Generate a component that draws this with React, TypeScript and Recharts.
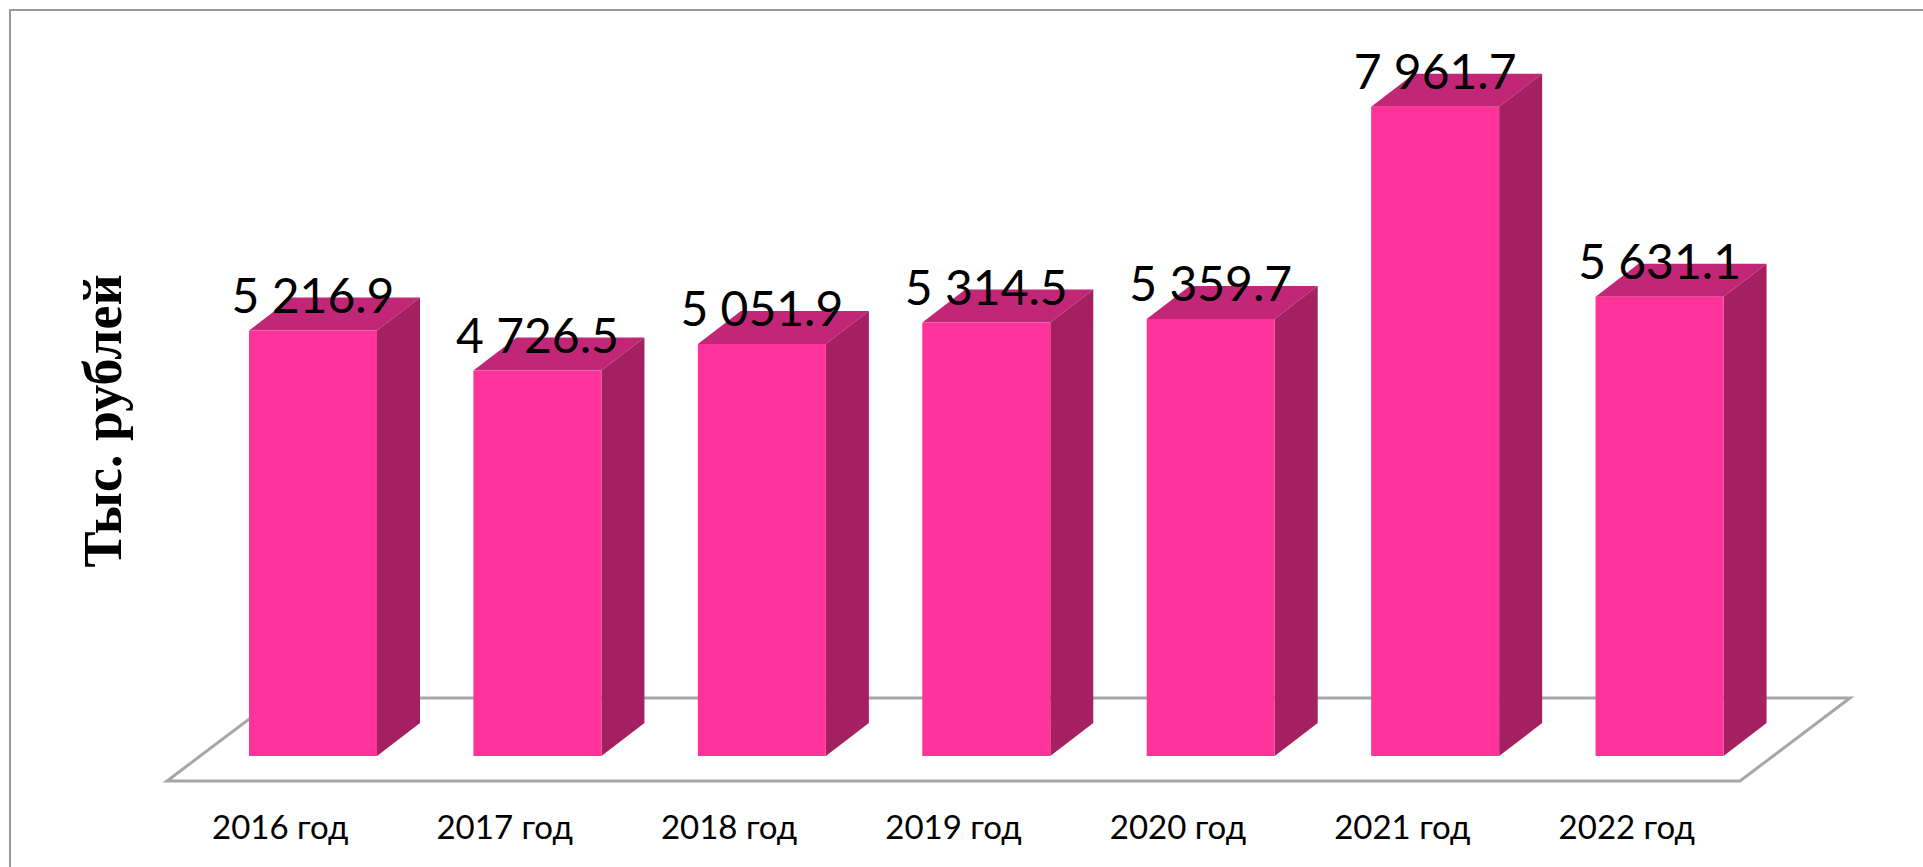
import React from "react";
import { BarChart, Bar, XAxis, YAxis, LabelList, usePlotArea } from "recharts";

const categories = ["2016 год", "2017 год", "2018 год", "2019 год", "2020 год", "2021 год", "2022 год"];
const values = [5216.9, 4726.5, 5051.9, 5314.5, 5359.7, 7961.7, 5631.1];
const valueLabels = ["5 216.9", "4 726.5", "5 051.9", "5 314.5", "5 359.7", "7 961.7", "5 631.1"];
const yTitle = "Тыс. рублей";

const rows = categories.map((name, i) => ({ name, value: values[i], label: valueLabels[i] }));

const DEPTH_X = 43;
const DEPTH_Y = 33;
const FRONT = "#FF3399";
const TOP = "#C22676";
const SIDE = "#A42060";
const GRID = "#A6A6A6";

function Floor() {
  const p = usePlotArea();
  if (!p) return null;
  const base = p.y + p.height;
  const xl = p.x - 34;
  const xr = p.x + p.width - 32;
  const yf = base + 25;
  const yb = base - 58;
  const shift = 110;
  return (
    <polygon
      points={`${xl},${yf} ${xr},${yf} ${xr + shift},${yb} ${xl + shift},${yb}`}
      fill="#FFFFFF"
      stroke={GRID}
      strokeWidth={3}
      strokeLinejoin="miter"
    />
  );
}

function Box(props: any) {
  const { x, y, width, height } = props;
  const r = x + width;
  const b = y + height;
  return (
    <g>
      <polygon points={`${x},${y} ${r},${y} ${r + DEPTH_X},${y - DEPTH_Y} ${x + DEPTH_X},${y - DEPTH_Y}`} fill={TOP} />
      <polygon points={`${r},${y} ${r + DEPTH_X},${y - DEPTH_Y} ${r + DEPTH_X},${b - DEPTH_Y} ${r},${b}`} fill={SIDE} />
      <rect x={x} y={y} width={width} height={height} fill={FRONT} />
    </g>
  );
}

export default function App() {
  return (
    <div style={{ position: "fixed", left: 0, top: 0, width: 1923, height: 867, overflow: "hidden", background: "#fff" }}>
      <div
        style={{
          position: "absolute",
          left: 9,
          top: 9,
          right: 0,
          bottom: 0,
          borderLeft: "2px solid #999",
          borderTop: "2px solid #999",
        }}
      />
      <div style={{ position: "absolute", left: 0, top: 0 }}>
        <BarChart
          width={1923}
          height={867}
          data={rows}
          margin={{ top: 22, right: 151, bottom: 0, left: 0 }}
          barCategoryGap={0}
        >
          <Floor />
          <XAxis
            dataKey="name"
            height={111}
            axisLine={false}
            tickLine={false}
            interval={0}
            tick={{ dx: -33, dy: 52, fontFamily: "Lato", fontSize: 33, fill: "#000" }}
          />
          <YAxis
            width={201}
            domain={[0, 9000]}
            tick={false}
            axisLine={false}
            tickLine={false}
            label={{
              value: yTitle,
              angle: -90,
              position: "center",
              dx: 1,
              dy: 32,
              style: { fontFamily: "Liberation Serif", fontWeight: 700, fontSize: 54, fill: "#000" },
            }}
          />
          <Bar dataKey="value" barSize={128} shape={<Box />} isAnimationActive={false}>
            <LabelList
              dataKey="label"
              position="top"
              offset={18}
              style={{ fontFamily: "Lato", fontSize: 48, fill: "#000" }}
            />
          </Bar>
        </BarChart>
      </div>
    </div>
  );
}
